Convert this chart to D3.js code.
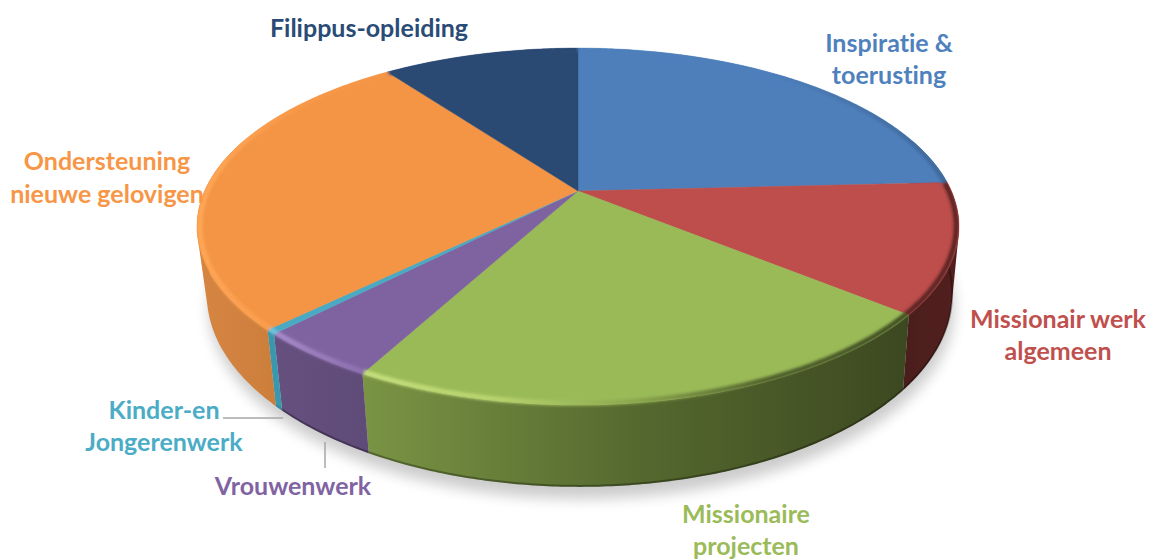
<!DOCTYPE html>
<html>
<head>
<meta charset="utf-8">
<style>
  html, body { margin: 0; padding: 0; background: #fff; overflow: hidden; }
  text { font-family: Lato, "Open Sans", sans-serif; font-weight: 700; font-size: 25px; text-anchor: middle; font-variant-ligatures: none; }
</style>
</head>
<body>
<div id="plot"></div>
<script src="https://cdnjs.cloudflare.com/ajax/libs/d3/7.8.5/d3.min.js"></script>
<script>
// Data (percent of the whole, clockwise from 12 o'clock)
const categories = ["Inspiratie & toerusting", "Missionair werk algemeen", "Missionaire projecten",
    "Vrouwenwerk", "Kinder-en Jongerenwerk", "Ondersteuning nieuwe gelovigen", "Filippus-opleiding"];
const shares = [24.2, 11.7, 22.0, 4.4, 0.4, 27.2, 10.1];

// Colours per slice
const topColors = ["#4e7fbb", "#bd4e4b", "#9aba58", "#7f63a1", "#4aaac4", "#f49545", "#2a4a73"];
const labelColors = ["#4f81bd", "#c0504d", "#9bbb59", "#8064a2", "#4bacc6", "#f79646", "#2a4b75"];
const sideColors = [
    ["#2f4d72", "#2f4d72", "#2f4d72"],
    ["#4a1e1c", "#4e1f1d", "#521f1d"],
    ["#7a9444", "#55692f", "#3c4820"],
    ["#66507f", "#624d7b", "#5f4b78"],
    ["#3a98ae", "#3a98ae", "#3a98ae"],
    ["#d68541", "#d28240", "#cb7e3a"],
    ["#1f3756", "#1f3756", "#1f3756"]
];
const rimColors = [
    ["#4e7fbb", "#4e7fbb", "#3f6899"],
    ["#5a2422", "#5a2422", "#5a2422"],
    ["#c6e07e", "#b7d46e", "#8aa64e", "#4d5d2a", "#3f4c22"],
    ["#a98ccc", "#9a7dbd", "#8d70b0"],
    ["#6cc4dc", "#6cc4dc", "#6cc4dc"],
    ["#ffa857", "#f9994a", "#f49545"],
    ["#2a4a73", "#2a4a73", "#2a4a73"]
];
const footOpacity = [0, 0.3, 0.3, 0.3, 0.1, 0, 0];

// Label lines, one row per line of text: [slice, text, x, baseline]
const labelRows = [
    [0, "Inspiratie &", 889, 52],
    [0, "toerusting", 889, 84],
    [1, "Missionair werk", 1058, 328],
    [1, "algemeen", 1058, 360],
    [2, "Missionaire", 746, 523],
    [2, "projecten", 746, 555],
    [3, "Vrouwenwerk", 293, 495],
    [4, "Kinder-en", 164, 419],
    [4, "Jongerenwerk", 164, 451],
    [5, "Ondersteuning", 107, 170],
    [5, "nieuwe gelovigen", 107, 203],
    [6, "Filippus-opleiding", 369, 37]
];

const width = 1149, height = 560;

// Tilted disc: a circle seen in perspective, apex of the pie at (578,191)
const apex = [578, 191], radiusX = 373.4, radiusY = 171.4, persp = 0.199;
const depth = 65.6, bottomScale = 0.978, bottomShift = 1.5;

function project(angle, k = 1) {
    const u = Math.sin(angle) * k, v = -Math.cos(angle) * k;
    const w = 1 / (1 - persp * v);
    return [apex[0] + radiusX * u * w, apex[1] + radiusY * v * w];
}
// wall height grows towards the viewer, same as the disc itself
function projectBottom(angle) {
    const p = project(angle);
    const w = 1 / (1 + persp * Math.cos(angle));
    return [apex[0] + bottomShift + (p[0] - apex[0]) * bottomScale, p[1] + depth * w];
}
function arcAngles(a0, a1) {
    const n = Math.max(2, Math.ceil((a1 - a0) / 0.01));
    return d3.range(n + 1).map(i => a0 + (a1 - a0) * i / n);
}

const svg = d3.select("#plot").append("svg")
    .attr("width", width)
    .attr("height", height)
    .style("display", "block");
const defs = svg.append("defs");

defs.append("filter").attr("id", "shadowBlur")
    .attr("x", "-10%").attr("y", "-10%").attr("width", "120%").attr("height", "120%")
    .append("feGaussianBlur").attr("stdDeviation", 7);
defs.append("filter").attr("id", "rimBlur")
    .attr("x", "-5%").attr("y", "-5%").attr("width", "110%").attr("height", "110%")
    .append("feGaussianBlur").attr("stdDeviation", 1.8);

const slices = d3.pie().sort(null).value(d => d)(shares);
const line = d3.line();
const fullCircle = arcAngles(0, 2 * Math.PI);

// Keeps the blurred bevel from bleeding past the back edge of the disc
const discClip = defs.append("clipPath").attr("id", "discClip");
discClip.append("path").attr("d", line(fullCircle.map(a => project(a))) + "Z");
discClip.append("path").attr("d", line(fullCircle.map(projectBottom)) + "Z");

// Soft shadow under the disc
svg.append("path")
    .attr("d", line(fullCircle.map(a => {
        const p = projectBottom(a);
        return [p[0] + 2, p[1] + 12];
    })) + "Z")
    .attr("fill", "#000")
    .attr("opacity", 0.2)
    .attr("filter", "url(#shadowBlur)");

function addGradient(id, x0, x1, stops) {
    const g = defs.append("linearGradient").attr("id", id)
        .attr("gradientUnits", "userSpaceOnUse")
        .attr("x1", x0).attr("x2", x1).attr("y1", 0).attr("y2", 0);
    stops.forEach((c, i) => g.append("stop").attr("offset", i / (stops.length - 1)).attr("stop-color", c));
}

// Side walls, front half only
const wallFrom = 0.4 * Math.PI, wallTo = 1.6 * Math.PI;
slices.forEach((s, i) => {
    const a0 = Math.max(s.startAngle, wallFrom), a1 = Math.min(s.endAngle, wallTo);
    if (a1 <= a0) return;
    const angles = arcAngles(a0, a1);
    const top = angles.map(a => project(a));
    const bottom = angles.map(projectBottom);
    const xs = top.concat(bottom).map(p => p[0]);
    addGradient("wall" + i, d3.min(xs), d3.max(xs), sideColors[i]);
    // one quad per step, all wound the same way, so the silhouette tangent gets filled too
    const quads = d3.range(angles.length - 1).map(j => {
        const q = [top[j], top[j + 1], bottom[j + 1], bottom[j]];
        if (d3.polygonArea(q) < 0) q.reverse();
        return line(q) + "Z";
    });
    svg.append("path")
        .attr("d", quads.join(""))
        .attr("fill", `url(#wall${i})`);
    // darker foot of the wall
    svg.append("path")
        .attr("d", line(bottom.map(p => [p[0], p[1] - 1])))
        .attr("fill", "none")
        .attr("stroke", "#000")
        .attr("stroke-opacity", footOpacity[i])
        .attr("stroke-width", 2);
});

// Top face
slices.forEach((s, i) => {
    const rim = arcAngles(s.startAngle, s.endAngle).map(a => project(a));
    svg.append("path")
        .attr("d", line([apex].concat(rim)) + "Z")
        .attr("fill", topColors[i])
        .attr("stroke", topColors[i])
        .attr("stroke-width", 0.4);
});

// Bevel along the rim of the top face
const rimLayer = svg.append("g")
    .attr("clip-path", "url(#discClip)")
    .append("g")
    .attr("filter", "url(#rimBlur)");
slices.forEach((s, i) => {
    const angles = arcAngles(s.startAngle, s.endAngle);
    const rim = angles.map(a => project(a, 0.993));
    const xs = rim.map(p => p[0]);
    addGradient("rim" + i, d3.min(xs), d3.max(xs), rimColors[i]);
    rimLayer.append("path")
        .attr("d", line(rim))
        .attr("fill", "none")
        .attr("stroke", `url(#rim${i})`)
        .attr("stroke-width", 5);
});

// Leader lines
const leaders = [[[223, 418], [283, 418]], [[325, 442], [325, 468]]];
svg.append("g").selectAll("path")
    .data(leaders)
    .enter()
    .append("path")
    .attr("d", d => line(d))
    .attr("stroke", "#a6a6a6")
    .attr("stroke-width", 1.5)
    .attr("fill", "none");

// Labels
svg.append("g").selectAll("text")
    .data(labelRows)
    .enter()
    .append("text")
    .attr("x", d => d[2])
    .attr("y", d => d[3])
    .attr("fill", d => labelColors[d[0]])
    .text(d => d[1]);
</script>
</body>
</html>
